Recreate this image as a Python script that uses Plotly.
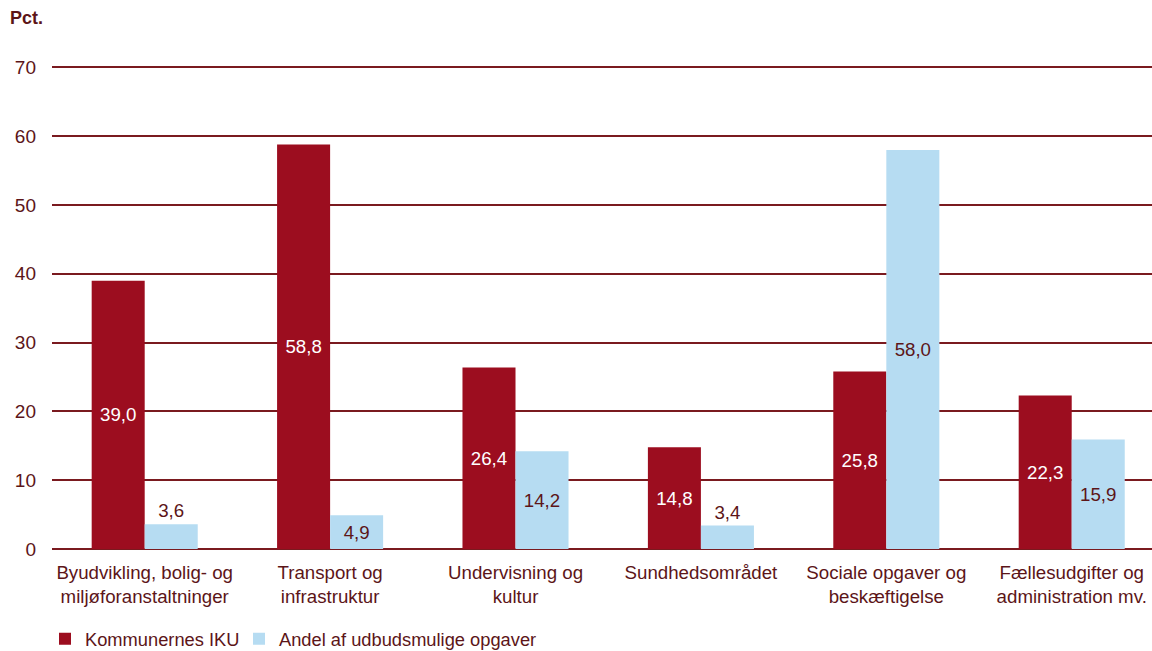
import plotly.graph_objects as go

categories = ["Byudvikling, bolig- og<br>miljøforanstaltninger", "Transport og<br>infrastruktur",
              "Undervisning og<br>kultur", "Sundhedsområdet", "Sociale opgaver og<br>beskæftigelse",
              "Fællesudgifter og<br>administration mv."]
iku = [39.0, 58.8, 26.4, 14.8, 25.8, 22.3]
udbud = [3.6, 4.9, 14.2, 3.4, 58.0, 15.9]
y_ticks = [0, 10, 20, 30, 40, 50, 60, 70]

RED = "#9C0D1F"
BLUE = "#B6DCF2"
TXT = "#5C1518"
GRID = "#7A1A1F"
FONT = "Liberation Sans, Arial, sans-serif"
FS = 18.7

W, H = 1152, 651
L, R, B = 52, 0, 102
Y_TOP = 70.5
SCALE = (549 - 67) / 70.0
T = H - B - Y_TOP * SCALE
PW, PH = W - L - R, H - T - B

def fmt(v):
    return f"{v:.1f}".replace(".", ",")

fig = go.Figure()
fig.add_trace(go.Bar(
    x=categories, y=iku, name="Kommunernes IKU", marker_color=RED, marker_line_width=0,
    text=[fmt(v) for v in iku], textposition="inside", insidetextanchor="middle",
    textfont=dict(color="white", size=FS, family=FONT), textangle=0, legend="legend",
))
fig.add_trace(go.Bar(
    x=categories, y=udbud, name="Andel af udbudsmulige opgaver", marker_color=BLUE, marker_line_width=0,
    text=[fmt(v) for v in udbud],
    textposition=["outside" if v < 4 else "inside" for v in udbud], insidetextanchor="middle",
    textfont=dict(color=TXT, size=FS, family=FONT), outsidetextfont=dict(color=TXT, size=FS, family=FONT),
    textangle=0, cliponaxis=False, legend="legend2",
))
leg_y = -(639 - (H - B)) / PH
leg_common = dict(orientation="h", y=leg_y, yanchor="middle", xanchor="left",
                  font=dict(size=18.3, color=TXT, family=FONT), itemwidth=30, bgcolor="rgba(0,0,0,0)")
fig.update_layout(
    width=W, height=H, barmode="group", bargap=0.428, bargroupgap=0,
    plot_bgcolor="white", paper_bgcolor="white",
    margin=dict(l=L, r=R, t=T, b=B, autoexpand=False),
    font=dict(family=FONT, size=FS, color=TXT),
    uniformtext=dict(mode=False),
    showlegend=True,
    legend=dict(x=(60 - 15 - L) / PW, **leg_common),
    legend2=dict(x=(254 - 15 - L) / PW, **leg_common),
)
fig.add_annotation(text="<b>Pct.</b>", xref="paper", yref="paper", x=(8 - L) / PW, y=1 + (T - 18) / PH,
                   xanchor="left", yanchor="middle", showarrow=False, font=dict(size=18, color=TXT, family=FONT))
fig.update_yaxes(range=[0, Y_TOP], tickvals=y_ticks, showgrid=True, gridcolor=GRID, gridwidth=2,
                 zeroline=True, zerolinecolor=GRID, zerolinewidth=2, showline=False, automargin=False,
                 ticklabelstandoff=15, tickfont=dict(size=19, color=TXT, family=FONT))
fig.update_xaxes(range=[-0.5, 5.433], showline=False, automargin=False,
                 tickfont=dict(size=FS, color=TXT, family=FONT), ticklabelstandoff=10)
fig.write_html("out.html", config={"displayModeBar": False},
               post_script="document.body.style.margin='0';document.body.style.overflow='hidden';")
